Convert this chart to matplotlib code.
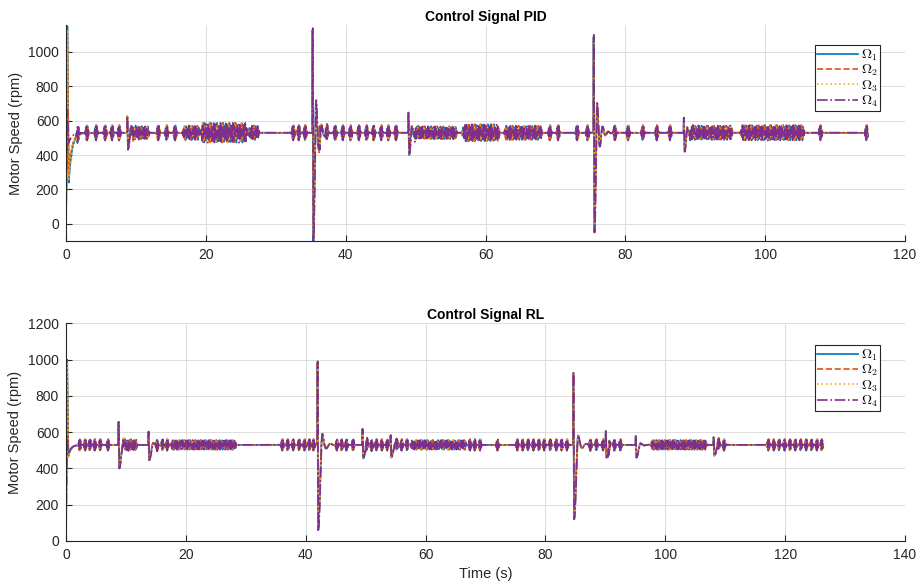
import numpy as np
import matplotlib.pyplot as plt

plt.rcParams['font.family'] = ['Liberation Sans', 'DejaVu Sans']
plt.rcParams['mathtext.fontset'] = 'cm'

# ---- values ----
base_speed = 530.0
labels = [r'$\Omega_1$', r'$\Omega_2$', r'$\Omega_3$', r'$\Omega_4$']
colors = ['#0072BD', '#D95319', '#EDB120', '#7E2F8E']
styles = ['-', '--', ':', '-.']

# PID panel
pid_t_end = 114.7
pid_start_y0 = [-100, -60, -90, 0]
pid_start_peak = [1150, 1100, 1130, 660]
pid_start_dip = [240, 300, 260, 470]
pid_bursts = [1.7, 3.0, 4.3, 5.6, 6.6, 7.6, 13.2, 14.4, 15.6, 32.5, 33.3, 34.2,
              36.3, 37.3, 38.5, 39.6, 40.7, 41.9, 43.0, 44.0, 45.1, 46.1, 47.2,
              69.2, 70.4, 73.1, 74.6, 78.5, 80.4, 82.5, 84.5, 86.4, 107.9, 114.5]
pid_burst_amp = 45
pid_dense = [(9.2, 12.0, 38), (16.6, 19.2, 42), (19.2, 26.0, 58), (26.0, 27.7, 42),
             (49.6, 56.0, 38), (56.6, 62.1, 50), (62.6, 68.2, 42),
             (89.0, 95.4, 42), (96.4, 105.7, 45)]
pid_spikes = [(8.7, 630, 430), (35.2, 1150, -100), (48.9, 650, 400),
              (75.4, 1110, -50), (88.3, 620, 420)]

# RL panel
rl_t_end = 126.3
rl_start_y0 = [0, 20, 0, 10]
rl_start_peak = [1000, 960, 990, 580]
rl_start_dip = [465, 470, 460, 480]
rl_bursts = [2.3, 3.2, 4.0, 4.8, 5.7, 7.0, 15.2, 16.1, 16.9,
             36.1, 37.0, 37.9, 38.9, 39.8, 40.6, 41.3, 45.2, 46.0, 46.8, 47.9,
             50.2, 51.0, 51.8, 52.7, 53.6, 55.2, 56.0, 56.9, 67.4, 68.2, 69.1, 72.0,
             75.3, 76.2, 77.1, 78.0, 78.9, 79.8, 80.8, 81.8, 82.7, 83.6,
             87.5, 88.5, 89.6, 90.6, 91.5, 92.5, 108.9, 109.8,
             117.2, 118.1, 119.0, 119.9, 120.8, 121.7, 122.6, 123.5, 124.4, 125.3, 126.1]
rl_burst_amp = 32
rl_dense = [(9.3, 12.0, 30), (17.4, 28.5, 27), (57.4, 66.9, 27), (97.5, 107.0, 27)]
rl_spikes = [(8.7, 660, 400), (13.7, 605, 445), (41.9, 1000, 60), (49.4, 620, 455),
             (54.1, 585, 460), (84.6, 940, 120), (90.0, 610, 460), (95.0, 580, 460),
             (108.0, 575, 470)]


def spike_shape(d, up, down, ring, period, tau):
    # sharp rise, sharp fall, then a damped ring back to the set point
    out = np.zeros_like(d)
    m1 = (d >= 0) & (d < 0.05)
    out[m1] = up * d[m1] / 0.05
    m2 = (d >= 0.05) & (d < 0.16)
    out[m2] = up + (down - up) * (d[m2] - 0.05) / 0.11
    ring_peak = -down * ring
    half = period / 2
    m3 = (d >= 0.16) & (d < 0.16 + half)
    dd = d[m3] - 0.16
    out[m3] = down + (ring_peak - down) * (1 - np.cos(np.pi * dd / half)) / 2
    m4 = d >= 0.16 + half
    dd = d[m4] - 0.16 - half
    out[m4] = ring_peak * np.exp(-dd / tau) * np.cos(2 * np.pi * dd / period)
    return out


def build(t, k, y0, peak, dip, bursts, bamp, dense, spikes, ring, period, tau):
    y = np.full_like(t, base_speed)
    ph = k * np.pi / 2
    f = (1 + 0.04 * k) / 0.22
    for tc in bursts:
        d = t - tc
        m = np.abs(d) < 0.35
        w = np.cos(np.pi * d[m] / 0.7) ** 2
        y[m] += bamp * w * np.sin(2 * np.pi * f * d[m] + ph)
    for a, b, amp in dense:
        m = (t >= a) & (t <= b)
        taper = np.clip(np.minimum(t[m] - a, b - t[m]) / 0.3, 0, 1)
        mod = 0.65 + 0.35 * np.cos(2 * np.pi * t[m] / 0.9 + k)
        y[m] += amp * taper * mod * np.sin(2 * np.pi * f * t[m] + ph)
    gain = [1.0, 0.97, 0.95, 1.0][k]
    for t0, hi, lo in spikes:
        d = t - t0 - 0.015 * k
        y += gain * spike_shape(d, hi - base_speed, lo - base_speed, ring, period, tau)
    # start-up transient
    s = np.zeros_like(t)
    m1 = t < 0.2
    s[m1] = y0 + (peak - y0) * t[m1] / 0.2
    m2 = (t >= 0.2) & (t < 0.4)
    s[m2] = peak + (dip - peak) * (t[m2] - 0.2) / 0.2
    m3 = t >= 0.4
    s[m3] = base_speed + (dip - base_speed) * np.exp(-(t[m3] - 0.4) / 0.45)
    y += s - base_speed
    return y


fig = plt.figure(figsize=(9.19, 5.88), dpi=100)
ax1 = fig.add_axes([0.0718, 0.590, 0.913, 0.367])
ax2 = fig.add_axes([0.0718, 0.080, 0.913, 0.370])

t1 = np.arange(0, pid_t_end, 0.004)
t2 = np.arange(0, rl_t_end, 0.004)
for k in range(4):
    y1 = build(t1, k, pid_start_y0[k], pid_start_peak[k], pid_start_dip[k], pid_bursts,
               pid_burst_amp, pid_dense, pid_spikes, 0.3, 0.8, 0.5)
    ax1.plot(t1, y1, color=colors[k], ls=styles[k], lw=1.2, label=labels[k])
    y2 = build(t2, k, rl_start_y0[k], rl_start_peak[k], rl_start_dip[k], rl_bursts,
               rl_burst_amp, rl_dense, rl_spikes, 0.13, 1.4, 0.6)
    ax2.plot(t2, y2, color=colors[k], ls=styles[k], lw=1.2, label=labels[k])

for ax, title, xmax, ylim, yticks, leg_top in [
        (ax1, 'Control Signal PID', 120, (-100, 1155), np.arange(0, 1001, 200), 0.907),
        (ax2, 'Control Signal RL', 140, (0, 1200), np.arange(0, 1201, 200), 0.899)]:
    ax.set_xlim(0, xmax)
    ax.set_ylim(*ylim)
    ax.set_xticks(np.arange(0, xmax + 1, 20))
    ax.set_yticks(yticks)
    ax.set_title(title, fontsize=10, fontweight='bold', pad=3)
    ax.set_ylabel('Motor Speed (rpm)', fontsize=10.5, color='#262626')
    ax.grid(True, color='#DCDCDC', lw=0.7)
    ax.set_axisbelow(True)
    for sp in ['top', 'right']:
        ax.spines[sp].set_visible(False)
    for sp in ['left', 'bottom']:
        ax.spines[sp].set_color('#262626')
        ax.spines[sp].set_linewidth(0.8)
    ax.tick_params(direction='in', length=4, labelsize=10, colors='#262626', pad=5)
    leg = ax.legend(loc='upper right', bbox_to_anchor=(0.970, leg_top), borderaxespad=0,
                    fontsize=10, handlelength=3.0, handletextpad=0.15, borderpad=0.15,
                    labelspacing=0.0, fancybox=False, framealpha=1)
    leg.get_frame().set_edgecolor('#262626')
    leg.get_frame().set_linewidth(0.8)

ax2.set_xlabel('Time (s)', fontsize=10.5, color='#262626')

fig.savefig('out.png', dpi=100)
